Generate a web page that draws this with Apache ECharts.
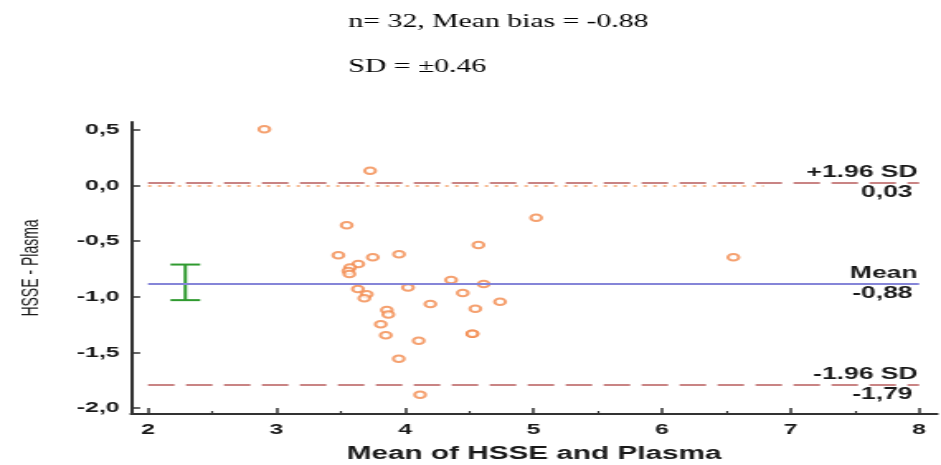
<!DOCTYPE html>
<html>
<head>
<meta charset="utf-8">
<script src="https://cdn.jsdelivr.net/npm/echarts@6/dist/echarts.min.js"></script>
<style>
  html, body { margin: 0; padding: 0; background: #ffffff; overflow: hidden; }
  #main { width: 570px; height: 465px; transform: scaleX(1.6509); transform-origin: 0 0; }
</style>
</head>
<body>
<div id="main"></div>
<script>
// ---- data ----
const titleLine1 = 'n= 32, Mean bias = -0.88';
const titleLine2 = 'SD = \u00b10.46';
const xAxisName = 'Mean of HSSE and Plasma';
const yAxisName = 'HSSE - Plasma';

const xTicks = [2, 3, 4, 5, 6, 7, 8];
const xMinorTicks = [2.5, 3.5, 4.5, 5.5, 6.5, 7.5];
const yTicks = [-2, -1.5, -1, -0.5, 0, 0.5];

// mean of the two methods (x) and their difference (y)
const meanValues = [2.905, 3.728, 3.546, 5.020, 4.571, 3.481, 3.749, 3.953, 3.636, 3.572, 3.559,
  3.567, 4.358, 4.612, 3.633, 4.023, 3.702, 3.683, 4.449, 4.739, 4.197, 4.547, 3.858, 3.870,
  3.811, 3.850, 4.524, 4.106, 3.951, 4.117, 6.555, 4.524];
const diffValues = [0.506, 0.134, -0.356, -0.289, -0.534, -0.627, -0.645, -0.618, -0.705, -0.737, -0.768,
  -0.795, -0.849, -0.885, -0.929, -0.916, -0.978, -1.013, -0.966, -1.044, -1.065, -1.107, -1.119, -1.159,
  -1.247, -1.346, -1.332, -1.395, -1.557, -1.880, -0.645, -1.332];

const limitNames = ['+1.96 SD', 'Mean', '-1.96 SD'];
const limitValues = [0.03, -0.88, -1.79];
const equalityLineEnd = 6.79;          // dotted zero line ends here
const ciMeanX = 2.29;                  // position of the 95% CI of the mean bar
const ciMean = [-0.71, -1.03];

// ---- styles ----
const SANS = "'Liberation Sans', Arial, sans-serif";
const SERIF = "'Liberation Serif', 'Times New Roman', serif";
const axisColor = '#333333';
const textColor = '#1a1a1a';
const pointColor = '#f38a4c';
const limitColor = '#c98484';
const meanColor = '#8585d8';
const zeroColor = '#f5a068';
const ciColor = '#2f9a2f';

const fmt = v => v.toFixed(2).replace('.', ',');
const fmt1 = v => v.toFixed(1).replace('.', ',');

const points = meanValues.map((m, i) => [m, diffValues[i]]);

const limitLines = limitNames.map((name, i) => {
  const v = limitValues[i];
  const isMean = name === 'Mean';
  return [
    {
      coord: [xTicks[0], v],
      lineStyle: isMean
        ? { color: meanColor, width: 2, type: 'solid' }
        : { color: limitColor, width: 2, type: [16, 7] },
      label: {
        show: true,
        position: 'insideEnd',
        distance: 1,
        formatter: '{a|' + name + '}\n{b|' + fmt(v) + '}',
        rich: {
          a: { fontFamily: SANS, fontSize: 16, fontWeight: 'bold', color: textColor, lineHeight: 20, align: 'right' },
          b: { fontFamily: SANS, fontSize: 16, fontWeight: 'bold', color: textColor, lineHeight: 20, align: 'right', padding: [0, 3, 0, 0] }
        }
      }
    },
    { coord: [xTicks[xTicks.length - 1], v] }
  ];
});

const zeroLine = [
  { coord: [xTicks[0], 0], lineStyle: { color: zeroColor, width: 1.5, type: [2, 4] }, label: { show: false } },
  { coord: [equalityLineEnd, 0] }
];

const gridBox = { left: 79.4, right: 2.4, top: 122, bottom: 51, outerBoundsMode: 'none', containLabel: false };

const option = {
  animation: false,
  backgroundColor: '#ffffff',
  title: [
    { text: titleLine1, left: 211, top: 13, padding: 0,
      textStyle: { fontFamily: SERIF, fontSize: 18, fontWeight: 'normal', color: '#000000' } },
    { text: titleLine2, left: 211, top: 58, padding: 0,
      textStyle: { fontFamily: SERIF, fontSize: 18, fontWeight: 'normal', color: '#000000' } }
  ],
  grid: [gridBox, Object.assign({}, gridBox)],
  xAxis: [
    {
      type: 'value', gridIndex: 0, min: 1.868, max: 8.14,
      name: xAxisName, nameLocation: 'middle', nameGap: 31,
      nameTextStyle: { fontFamily: SANS, fontSize: 18, fontWeight: 'bold', color: textColor },
      axisLine: { show: true, onZero: false, lineStyle: { color: axisColor, width: 2 } },
      axisTick: { show: true, inside: true, length: 6, customValues: xTicks, lineStyle: { color: axisColor, width: 1.5 } },
      axisLabel: { show: true, customValues: xTicks, margin: 8, fontFamily: SANS, fontSize: 15, fontWeight: 'bold', color: textColor },
      splitLine: { show: false }
    },
    {
      type: 'value', gridIndex: 1, min: 1.868, max: 8.14, position: 'bottom',
      axisLine: { show: false, onZero: false },
      axisTick: { show: true, inside: true, length: 3, customValues: xMinorTicks, lineStyle: { color: axisColor, width: 1.2 } },
      axisLabel: { show: false },
      splitLine: { show: false }
    }
  ],
  yAxis: [
    {
      type: 'value', gridIndex: 0, min: -2.054, max: 0.572,
      name: yAxisName, nameLocation: 'middle', nameGap: 53,
      nameTextStyle: { fontFamily: SANS, fontSize: 14, color: textColor },
      axisLine: { show: true, onZero: false, lineStyle: { color: axisColor, width: 2 } },
      axisTick: { show: true, inside: true, length: 5.5, customValues: yTicks, lineStyle: { color: axisColor, width: 1.5 } },
      axisLabel: { show: true, customValues: yTicks, margin: 7, formatter: fmt1, fontFamily: SANS, fontSize: 15, fontWeight: 'bold', color: textColor },
      splitLine: { show: false }
    },
    {
      type: 'value', gridIndex: 1, min: -2.054, max: 0.572, show: false
    }
  ],
  series: [
    {
      type: 'scatter',
      xAxisIndex: 0, yAxisIndex: 0,
      data: points,
      symbol: 'emptyCircle',
      symbolSize: 6.5,
      itemStyle: { color: pointColor, borderColor: pointColor, borderWidth: 1.3 },
      emphasis: { disabled: true },
      z: 3,
      markLine: {
        silent: true,
        symbol: ['none', 'none'],
        animation: false,
        data: [zeroLine].concat(limitLines)
      }
    },
    {
      type: 'custom',
      xAxisIndex: 0, yAxisIndex: 0,
      data: [[ciMeanX, ciMean[0], ciMean[1]]],
      silent: true,
      renderItem: function (params, api) {
        const x = api.value(0);
        const p1 = api.coord([x, api.value(1)]);
        const p2 = api.coord([x, api.value(2)]);
        const hw = 9;
        const style = { stroke: ciColor, lineWidth: 2 };
        return {
          type: 'group',
          children: [
            { type: 'line', shape: { x1: p1[0], y1: p1[1], x2: p2[0], y2: p2[1] }, style: style },
            { type: 'line', shape: { x1: p1[0] - hw, y1: p1[1], x2: p1[0] + hw, y2: p1[1] }, style: style },
            { type: 'line', shape: { x1: p2[0] - hw, y1: p2[1], x2: p2[0] + hw, y2: p2[1] }, style: style }
          ]
        };
      }
    }
  ]
};

const chart = echarts.init(document.getElementById('main'), null, { renderer: 'canvas' });
chart.setOption(option);
</script>
</body>
</html>
